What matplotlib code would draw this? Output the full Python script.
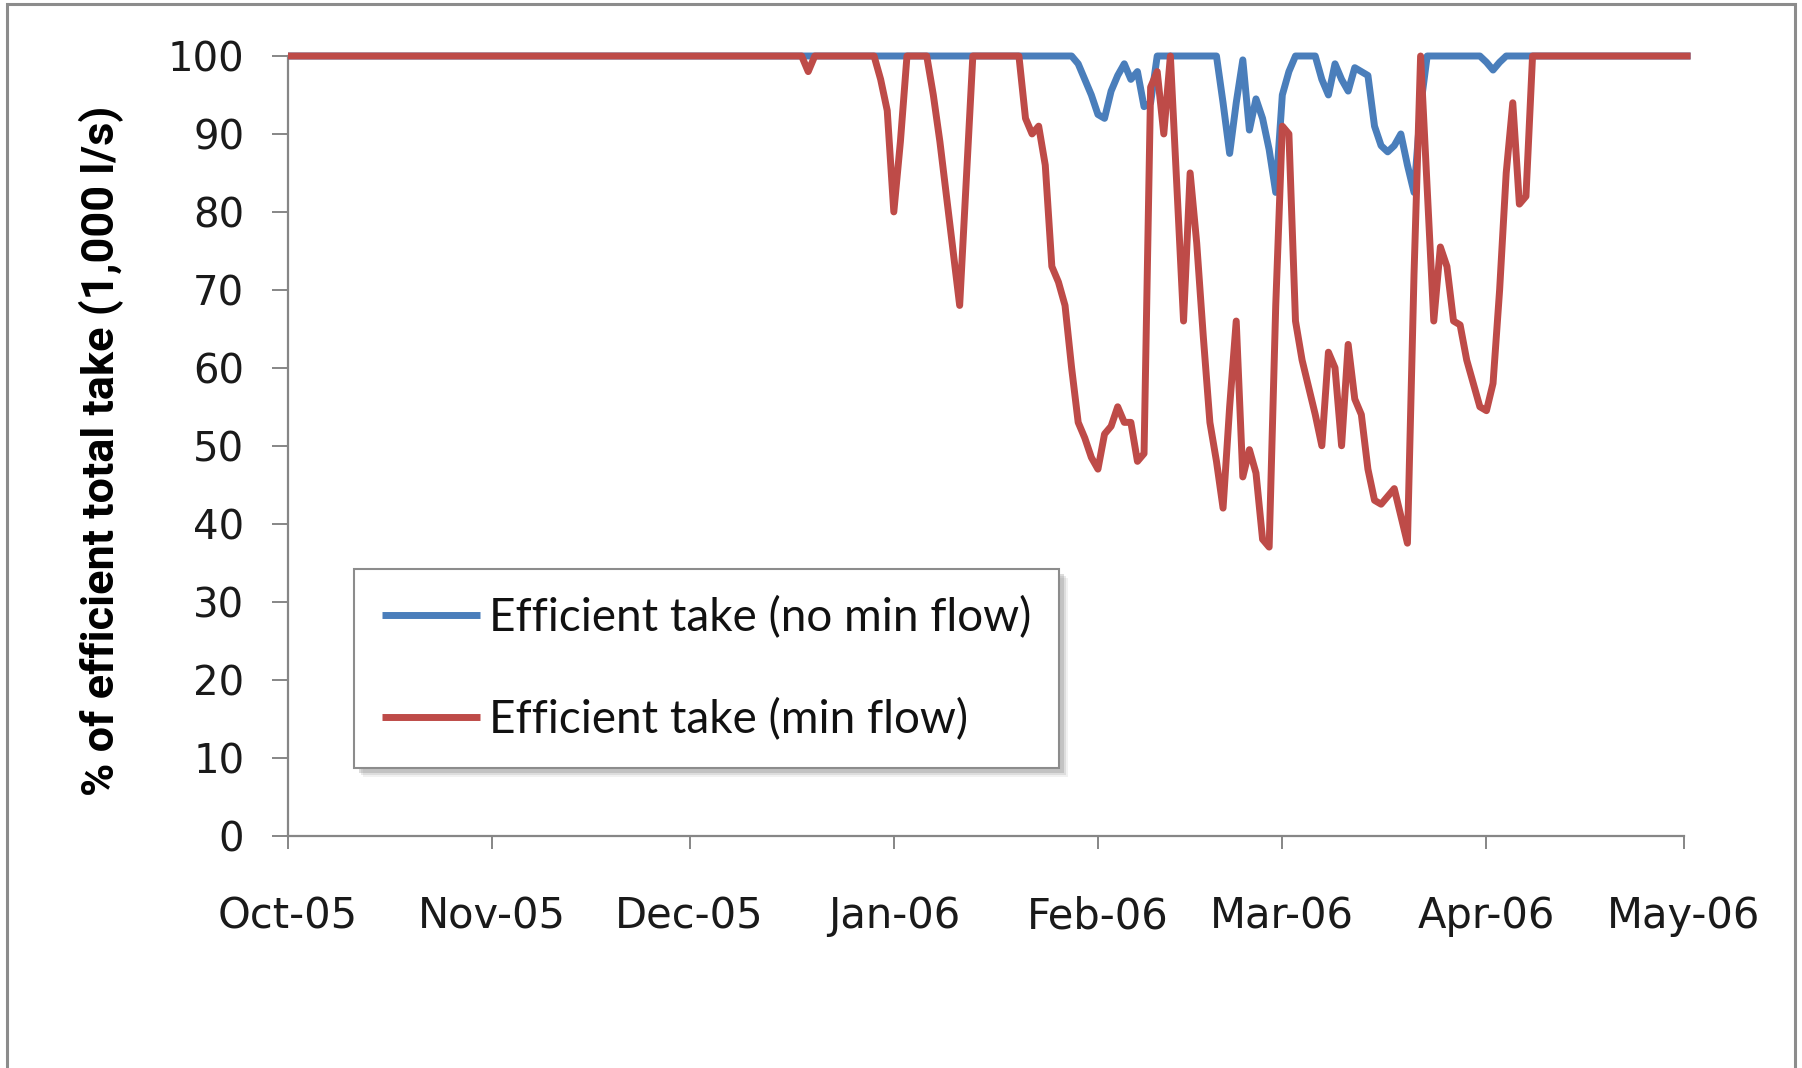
import matplotlib
matplotlib.use("Agg")
import matplotlib.pyplot as plt
import matplotlib.dates as mdates
import matplotlib.patches as mpatches
from matplotlib.transforms import IdentityTransform
import pandas as pd

# ---------------- data ----------------
series_names = ["Efficient take (no min flow)", "Efficient take (min flow)"]
y_label = "% of efficient total take (1,000 l/s)"
y_ticks = [0, 10, 20, 30, 40, 50, 60, 70, 80, 90, 100]
x_tick_dates = ["2005-10-01", "2005-11-01", "2005-12-01", "2006-01-01",
                "2006-02-01", "2006-03-01", "2006-04-01", "2006-05-01"]

# daily values 18 Dec 2005 .. 8 Apr 2006, plus flat end points
start_date = "2005-10-01"
window_start = "2005-12-18"
window_end = "2006-04-08"
end_date = "2006-05-02"

red_window = [
    100, 98, 100, 100, 100, 100, 100, 100, 100, 100, 100, 100,   # 18-29 Dec
    97, 93, 80, 89, 100, 100, 100, 100,                          # 30 Dec - 6 Jan
    95, 89, 82, 75, 68, 84, 100,                                 # 7-13 Jan
    100, 100, 100, 100, 100, 100, 100,                           # 14-20 Jan
    92, 90, 91, 86, 73, 71, 68, 60, 53,                          # 21-29 Jan
    51, 48.5, 47, 51.5, 52.5, 55, 53, 53, 48, 49,                # 30 Jan - 8 Feb
    96, 98, 90, 100, 83, 66, 85, 76, 64, 53,                     # 9-18 Feb
    48, 42, 55, 66, 46, 49.5, 46.5, 38, 37, 68,                  # 19-28 Feb
    91, 90, 66, 61, 57.5, 54, 50, 62, 60, 50,                    # 1-10 Mar
    63, 56, 54, 47, 43, 42.5, 43.5, 44.5, 41, 37.5,              # 11-20 Mar
    72, 100, 83, 66, 75.5, 73, 66, 65.5, 61, 58,                 # 21-30 Mar
    55, 54.5, 58, 70, 85, 94, 81, 82, 100,                       # 31 Mar - 8 Apr
]
blue_window = [
    100, 100, 100, 100, 100, 100, 100, 100, 100, 100, 100, 100,  # 18-29 Dec
    100, 100, 100, 100, 100, 100, 100, 100,                      # 30 Dec - 6 Jan
    100, 100, 100, 100, 100, 100, 100,                           # 7-13 Jan
    100, 100, 100, 100, 100, 100, 100,                           # 14-20 Jan
    100, 100, 100, 100, 100, 100, 100, 100, 99,                  # 21-29 Jan
    97, 95, 92.5, 92, 95.5, 97.5, 99, 97, 98, 93.5,              # 30 Jan - 8 Feb
    94, 100, 100, 100, 100, 100, 100, 100, 100, 100,             # 9-18 Feb
    100, 94, 87.5, 94, 99.5, 90.5, 94.5, 92, 88, 82.5,           # 19-28 Feb
    95, 98, 100, 100, 100, 100, 97, 95, 99, 97,                  # 1-10 Mar
    95.5, 98.5, 98, 97.5, 91, 88.5, 87.7, 88.5, 90, 86,          # 11-20 Mar
    82.5, 93.5, 100, 100, 100, 100, 100, 100, 100, 100,          # 21-30 Mar
    100, 99.2, 98.2, 99.2, 100, 100, 100, 100, 100,              # 31 Mar - 8 Apr
]
flat_start_value = 100
flat_end_value = 100

blue_color = "#4A7EBB"
red_color = "#BE4B48"

# ---------------- build series ----------------
window_dates = pd.date_range(window_start, window_end, freq="D")
dates = [pd.Timestamp(start_date)] + list(window_dates) + [pd.Timestamp(end_date)]
red_values = [flat_start_value] + red_window + [flat_end_value]
blue_values = [flat_start_value] + blue_window + [flat_end_value]

# ---------------- figure ----------------
W, H = 1802, 1068
fig = plt.figure(figsize=(W / 100, H / 100), dpi=100)
fig.patch.set_facecolor("white")

# outer chart border
fig.patches.append(mpatches.Rectangle((7 / W, -0.02), (1795 - 7) / W, 1.02 - 4 / H,
                                      transform=fig.transFigure, fill=False,
                                      edgecolor="#8c8c8c", linewidth=2.2))

ax = fig.add_axes([288 / W, 1 - 835.5 / H, (1684 - 288) / W, (835.5 - 56) / H])

ax.plot(dates, blue_values, color=blue_color, lw=5.0, solid_joinstyle="round",
        solid_capstyle="butt", clip_on=False, label=series_names[0], zorder=3)
ax.plot(dates, red_values, color=red_color, lw=5.0, solid_joinstyle="round",
        solid_capstyle="butt", clip_on=False, label=series_names[1], zorder=4)

ax.set_xlim(pd.Timestamp(x_tick_dates[0]), pd.Timestamp(x_tick_dates[-1]))
ax.set_ylim(0, 100)
ax.set_yticks(y_ticks)
ax.set_xticks([pd.Timestamp(d) for d in x_tick_dates])
ax.xaxis.set_major_formatter(mdates.DateFormatter("%b-%y"))

for s in ["top", "right"]:
    ax.spines[s].set_visible(False)
for s in ["left", "bottom"]:
    ax.spines[s].set_color("#868686")
    ax.spines[s].set_linewidth(1.6)

ax.tick_params(axis="y", direction="out", length=11.5, width=1.4, color="#868686",
               pad=20, labelsize=29, labelcolor="#1a1a1a")
ax.tick_params(axis="x", direction="out", length=9, width=1.4, color="#868686",
               pad=34, labelsize=30, labelcolor="#1a1a1a")
for lab in ax.get_xticklabels() + ax.get_yticklabels():
    lab.set_fontfamily(["DejaVu Sans"])

ax.set_ylabel(y_label, fontsize=32.5, fontweight="bold",
              family=["Liberation Sans Narrow", "Roboto", "DejaVu Sans"],
              va="center", color="black")
ax.yaxis.set_label_coords((101 - 288) / 1396, (835.5 - 451) / 779.5)

leg = ax.legend(loc="upper left", bbox_to_anchor=(354 / W, 1 - 569 / H),
                bbox_transform=fig.transFigure, borderaxespad=0,
                prop={"family": ["Lato", "DejaVu Sans"], "size": 33},
                handlelength=2.14, handletextpad=0.2, borderpad=0.6,
                labelspacing=1.27, fancybox=False, frameon=True, framealpha=1)
leg.get_frame().set_edgecolor("#8c8c8c")
leg.get_frame().set_linewidth(1.5)
leg.get_frame().set_facecolor("white")
leg.set_zorder(10)
for t in leg.get_texts():
    t.set_color("#111111")

# soft legend shadow (drawn inside the axes, just below the legend)
fig.canvas.draw()
bb = leg.get_window_extent()
for off, a in [(9, 0.10), (7, 0.16), (5, 0.26)]:
    ax.add_patch(mpatches.Rectangle((bb.x0 + off, bb.y0 - off), bb.width, bb.height,
                                    transform=IdentityTransform(), facecolor="#7a7a7a",
                                    edgecolor="none", alpha=a, zorder=9, clip_on=False))

fig.savefig("out.png", dpi=100, facecolor="white")
